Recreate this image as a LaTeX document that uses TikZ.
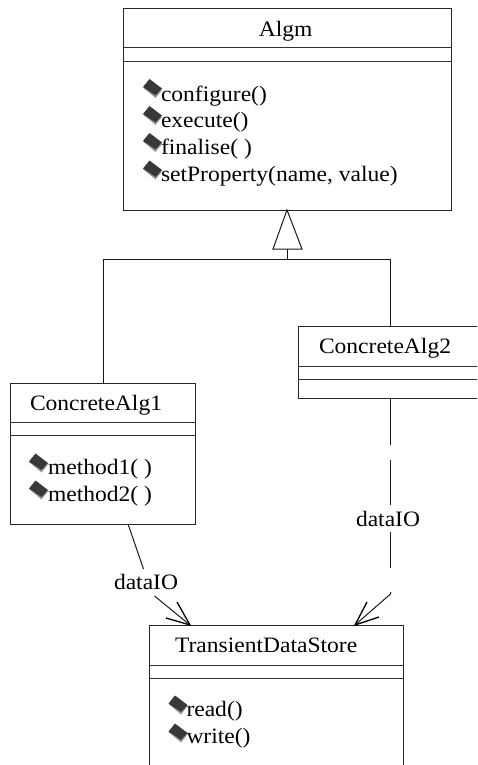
\documentclass[tikz,border=0pt]{standalone}
\usepackage{fontspec}
\setmainfont[FakeStretch=1.07]{Liberation Serif}
\tikzset{
  x=1pt,y=-1pt,
  umlbox/.style={draw=black!85,line width=1pt,fill=white,anchor=north west,inner sep=0pt,outer sep=0pt},
  divider/.style={draw=black!80,line width=1pt},
  lbl/.style={anchor=base west,inner sep=0pt,outer sep=0pt,font=\fontsize{22}{26}\selectfont,text=black},
  conn/.style={draw=black!90,line width=1pt},
  barb/.style={draw=black,line width=1.3pt},
  opmark/.pic={
    \fill[black!40] (-9.5,-1) -- (3,9.5) -- (9.5,1.5) -- cycle;
    \fill[black!78] (-9.5,-1.5) -- (-3,-9.5) -- (9.5,0) -- (3,7) -- cycle;
  }
}
\begin{document}
\begin{tikzpicture}
\useasboundingbox (0,0) rectangle (477,765);
\clip (0,0) rectangle (477,765);
% boxes
\node[umlbox,minimum width=328pt,minimum height=201pt] (algm) at (123.5,9) {};
\node[umlbox,minimum width=185pt,minimum height=141pt] (ca1) at (10,383) {};
\node[umlbox,minimum width=200pt,minimum height=72pt] (ca2) at (298,326) {};
\node[umlbox,minimum width=254pt,minimum height=160pt] (tds) at (149,625) {};
% dividers
\draw[divider] (123.5,48) -- (451.5,48) (123.5,62) -- (451.5,62);
\draw[divider] (10,422) -- (195,422) (10,435.5) -- (195,435.5);
\draw[divider] (298,366) -- (498,366) (298,379) -- (498,379);
\draw[divider] (149,665) -- (403,665) (149,678) -- (403,678);
% generalisation
\coordinate (apex) at (287,210);
\coordinate (bl) at (273,249);
\coordinate (br) at (302,249);
\coordinate (stem) at (287,259);
\coordinate (jl) at (103,259);
\coordinate (jr) at (390,259);
\draw[conn] (apex) -- (bl) -- (br) -- cycle;
\draw[conn] (287,249) -- (stem);
\draw[conn] (jl) -- (jr);
\draw[conn] (jl) -- (103,383);
\draw[conn] (jr) -- (390,326);
% dataIO left
\coordinate (t1) at (190,625);
\draw[conn] (128,524) -- (143.5,569);
\draw[conn] (154.5,596) -- (t1);
\draw[barb] (177,602) -- (t1) -- (166,618);
% dataIO right
\coordinate (t2) at (355,625);
\draw[conn] (390.5,398) -- (390.5,445) (390.5,460) -- (390.5,505) (390.5,532) -- (390.5,568);
\draw[conn] (390.5,592) -- (390.5,594) -- (t2);
\draw[barb] (367,602) -- (t2) -- (379,617);
% labels
\node[lbl,anchor=base] (algmname) at (285.7,36.7) {Algm};
\node[lbl] (op1) at (161,101.7) {configure()};
\node[lbl] (op2) at (161,127.5) {execute()};
\node[lbl] (op3) at (161,154.5) {finalise( )};
\node[lbl] (op4) at (161,181.7) {setProperty(name, value)};
\node[lbl] (ca1name) at (30,410.7) {ConcreteAlg1};
\node[lbl] (m1) at (48,474) {method1( )};
\node[lbl] (m2) at (48,501.7) {method2( )};
\node[lbl] (ca2name) at (319,353) {ConcreteAlg2};
\node[lbl] (d2) at (356,526.7) {dataIO};
\node[lbl] (d1) at (114,589) {dataIO};
\node[lbl] (tdsname) at (175,652.7) {TransientDataStore};
\node[lbl] (r) at (186.5,716) {read()};
\node[lbl] (w) at (186.5,743) {write()};
% operation markers
\pic at (152.5,88.5) {opmark};
\pic at (152.5,115.5) {opmark};
\pic at (152.5,142.5) {opmark};
\pic at (152.5,170) {opmark};
\pic at (38.5,463) {opmark};
\pic at (38.5,490) {opmark};
\pic at (178,705) {opmark};
\pic at (178,733) {opmark};
\end{tikzpicture}
\end{document}
